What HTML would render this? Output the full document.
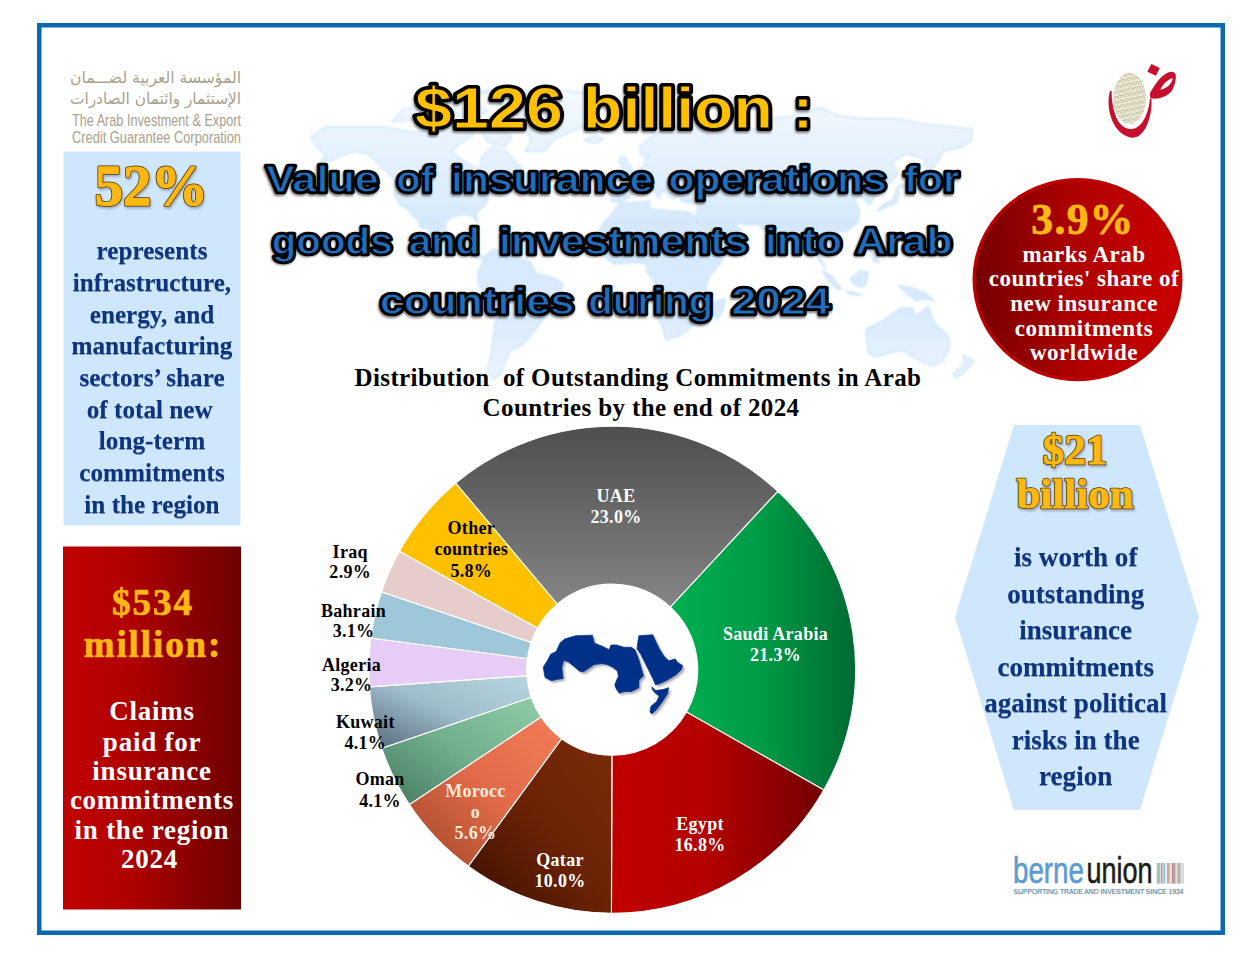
<!DOCTYPE html>
<html lang="en"><head><meta charset="utf-8"><title>Insurance operations into Arab countries 2024</title>
<style>
html,body{margin:0;padding:0;background:#fff;}
body{width:1254px;height:969px;position:relative;overflow:hidden;}
svg{position:absolute;left:0;top:0;display:block;}
text{white-space:pre;}
.serif{font-family:"Liberation Serif","DejaVu Serif",serif;font-weight:bold;}
.sans{font-family:"Liberation Sans","DejaVu Sans",sans-serif;}
.ar{font-family:"DejaVu Sans","Liberation Sans",sans-serif;}
</style></head>
<body>
<svg width="1254" height="969" viewBox="0 0 1254 969">
<defs>
<filter id="mapblur" x="-5%" y="-5%" width="110%" height="110%"><feGaussianBlur stdDeviation="1.1"/></filter>
<linearGradient id="mapgrad" gradientUnits="userSpaceOnUse" x1="0" y1="75" x2="0" y2="400"><stop offset="0" stop-color="#f8fbff"/><stop offset="0.25" stop-color="#e4f1fd"/><stop offset="0.45" stop-color="#d3e8fb"/><stop offset="0.72" stop-color="#d6e9fb"/><stop offset="1" stop-color="#eef6fe"/></linearGradient>
<filter id="tshadow" x="-5%" y="-20%" width="110%" height="150%"><feGaussianBlur stdDeviation="0.9"/></filter>
<linearGradient id="redbox" x1="0" x2="1" y1="0" y2="0"><stop offset="0" stop-color="#c00000"/><stop offset="0.35" stop-color="#b20000"/><stop offset="1" stop-color="#6c0000"/></linearGradient>
<linearGradient id="redcirc" x1="0" x2="1" y1="0" y2="0"><stop offset="0" stop-color="#760000"/><stop offset="0.5" stop-color="#b00000"/><stop offset="1" stop-color="#c80000"/></linearGradient>
<linearGradient id="gUAE" x1="0" y1="0" x2="0" y2="1"><stop offset="0" stop-color="#4e4e4e"/><stop offset="1" stop-color="#858585"/></linearGradient>
<linearGradient id="gSA" x1="0" y1="0" x2="1" y2="0"><stop offset="0" stop-color="#00b050"/><stop offset="0.5" stop-color="#009a46"/><stop offset="1" stop-color="#006a31"/></linearGradient>
<linearGradient id="gEG" x1="0" y1="0" x2="1" y2="0"><stop offset="0" stop-color="#c00000"/><stop offset="0.45" stop-color="#b40000"/><stop offset="1" stop-color="#720000"/></linearGradient>
<linearGradient id="gQA" x1="1" y1="0" x2="0" y2="1"><stop offset="0" stop-color="#7a2c0a"/><stop offset="0.5" stop-color="#6a2205"/><stop offset="1" stop-color="#3a0f00"/></linearGradient>
<linearGradient id="gMO" x1="1" y1="0" x2="0" y2="1"><stop offset="0" stop-color="#f47c58"/><stop offset="0.5" stop-color="#e06a48"/><stop offset="1" stop-color="#a04628"/></linearGradient>
<linearGradient id="gOM" x1="1" y1="0" x2="0" y2="1"><stop offset="0" stop-color="#8fcca6"/><stop offset="0.5" stop-color="#72b08e"/><stop offset="1" stop-color="#44785f"/></linearGradient>
<linearGradient id="gKU" x1="1" y1="0" x2="0" y2="1"><stop offset="0" stop-color="#b6d6df"/><stop offset="0.5" stop-color="#9fbecb"/><stop offset="1" stop-color="#55687a"/></linearGradient>
<filter id="mshadow" x="-10%" y="-10%" width="130%" height="130%"><feGaussianBlur stdDeviation="6"/></filter>
<pattern id="calli" width="6" height="5" patternUnits="userSpaceOnUse" patternTransform="rotate(-12)"><rect width="6" height="5" fill="#f7f4e4"/><path d="M0 1.5 Q1.5 0 3 1.5 T6 1.5 M0.5 3.8 L2.5 3 M3.5 4.2 Q4.5 2.6 5.6 4" stroke="#9c966c" stroke-width="0.85" fill="none"/></pattern>
</defs>
<rect x="39.25" y="25.25" width="1183.5" height="907.5" fill="none" stroke="#0b69b0" stroke-width="4.5"/>
<g filter="url(#mapblur)" opacity="0.92">
<path d="M310.8 137.0 L326.0 126.8 L354.5 126.8 L383.0 126.8 L411.5 131.9 L440.0 131.9 L449.5 121.5 L468.5 126.8 L474.2 134.5 L462.8 141.9 L451.4 151.4 L459.0 158.3 L474.2 167.3 L479.9 169.5 L481.8 156.0 L493.2 146.7 L506.5 151.4 L516.0 162.8 L523.6 169.5 L516.0 180.2 L506.5 186.5 L497.0 190.7 L489.4 194.8 L485.6 204.9 L476.1 212.8 L478.0 222.6 L474.2 218.7 L470.4 214.8 L460.9 214.8 L451.4 216.8 L445.7 222.6 L445.7 230.4 L451.4 238.0 L459.0 236.1 L464.7 232.3 L464.7 241.8 L472.3 243.7 L472.3 253.2 L479.9 255.1 L483.7 257.0 L478.0 258.8 L468.5 253.2 L459.0 247.5 L449.5 241.8 L440.0 239.9 L430.5 234.2 L428.6 228.4 L421.0 228.4 L417.2 218.7 L411.5 214.8 L407.7 208.9 L400.1 204.9 L394.4 194.8 L394.4 180.2 L386.8 171.7 L377.3 162.8 L367.8 153.7 L354.5 151.4 L341.2 156.0 L329.8 160.6 L316.5 165.1 L326.0 156.0 L316.5 146.7 L310.8 137.0Z" fill="url(#mapgrad)" stroke="#c2dff7" stroke-width="1.2" stroke-linejoin="round"/>
<path d="M392.5 121.5 L421.0 118.8 L430.5 110.5 L459.0 116.1 L478.0 118.8 L487.5 110.5 L468.5 98.7 L497.0 89.2 L449.5 95.6 L421.0 104.7 L402.0 110.5 L392.5 121.5Z" fill="url(#mapgrad)" stroke="#c2dff7" stroke-width="1.2" stroke-linejoin="round"/>
<path d="M478.0 126.8 L497.0 126.8 L512.2 137.0 L504.6 146.7 L487.5 141.9 L478.0 126.8Z" fill="url(#mapgrad)" stroke="#c2dff7" stroke-width="1.2" stroke-linejoin="round"/>
<path d="M525.5 151.4 L544.5 151.4 L554.0 139.4 L582.5 126.8 L592.0 110.5 L582.5 92.4 L544.5 89.2 L516.0 92.4 L497.0 104.7 L516.0 113.3 L525.5 126.8 L531.2 139.4 L525.5 151.4Z" fill="url(#mapgrad)" stroke="#c2dff7" stroke-width="1.2" stroke-linejoin="round"/>
<path d="M483.7 257.0 L493.2 249.4 L506.5 253.2 L516.0 257.0 L531.2 262.6 L535.0 272.0 L546.4 275.8 L557.8 279.5 L563.5 285.2 L557.8 296.5 L554.0 309.8 L544.5 317.5 L538.8 325.3 L529.3 337.1 L521.7 345.1 L510.3 351.2 L504.6 361.6 L500.8 374.5 L493.2 378.9 L487.5 370.2 L491.3 353.3 L493.2 339.1 L495.1 325.3 L497.0 306.0 L485.6 298.4 L478.0 283.3 L478.0 272.0 L481.8 264.5 L483.7 257.0Z" fill="url(#mapgrad)" stroke="#c2dff7" stroke-width="1.2" stroke-linejoin="round"/>
<path d="M597.7 243.7 L597.7 232.3 L605.3 220.7 L611.0 214.8 L618.6 204.9 L630.0 202.9 L649.0 200.9 L650.9 208.9 L668.0 210.9 L677.5 210.9 L690.8 212.8 L696.5 218.7 L700.3 230.4 L704.1 241.8 L711.7 249.4 L726.9 249.4 L721.2 262.6 L709.8 275.8 L706.0 287.0 L706.0 300.3 L696.5 309.8 L696.5 319.4 L687.0 331.2 L677.5 337.1 L666.1 339.1 L662.3 327.2 L654.7 309.8 L652.8 294.6 L654.7 281.4 L647.1 272.0 L647.1 264.5 L639.5 262.6 L630.0 262.6 L614.8 264.5 L605.3 257.0 L597.7 243.7Z" fill="url(#mapgrad)" stroke="#c2dff7" stroke-width="1.2" stroke-linejoin="round"/>
<path d="M611.0 200.9 L612.9 188.6 L626.2 186.5 L622.4 178.1 L633.8 171.7 L645.2 165.1 L645.2 158.3 L650.9 156.0 L641.4 156.0 L639.5 146.7 L654.7 134.5 L671.8 126.8 L687.0 124.2 L707.9 134.5 L713.6 137.0 L725.0 131.9 L744.0 129.4 L759.2 129.4 L766.8 118.8 L791.5 116.1 L820.0 107.6 L839.0 116.1 L867.5 118.8 L896.0 118.8 L924.5 124.2 L953.0 126.8 L972.0 129.4 L972.0 139.4 L962.5 146.7 L943.5 151.4 L934.0 167.3 L926.4 171.7 L924.5 158.3 L905.5 153.7 L892.2 162.8 L897.9 173.8 L886.5 186.5 L877.0 190.7 L873.2 198.9 L869.4 204.9 L861.8 196.8 L854.2 198.9 L859.9 210.9 L858.0 222.6 L848.5 230.4 L837.1 232.3 L833.3 239.9 L837.1 249.4 L829.5 255.1 L820.0 247.5 L820.0 258.8 L825.7 268.2 L818.1 258.8 L816.2 243.7 L808.6 239.9 L802.9 230.4 L795.3 232.3 L785.8 241.8 L782.0 249.4 L776.3 257.0 L770.6 243.7 L766.8 232.3 L757.3 224.6 L744.0 224.6 L738.3 222.6 L736.4 226.5 L742.1 230.4 L734.5 239.9 L715.5 247.5 L711.7 245.6 L704.1 232.3 L696.5 218.7 L696.5 210.9 L698.4 202.9 L687.0 202.9 L681.3 200.9 L679.4 194.8 L673.7 198.9 L668.0 194.8 L664.2 190.7 L658.5 194.8 L660.4 198.9 L652.8 190.7 L645.2 186.5 L635.7 188.6 L630.0 196.8 L620.5 202.9 L611.0 200.9Z" fill="url(#mapgrad)" stroke="#c2dff7" stroke-width="1.2" stroke-linejoin="round"/>
<path d="M866.3 329.1 L883.3 320.6 L900.3 308.1 L913.1 308.1 L915.2 316.5 L923.7 310.2 L928.0 306.1 L934.4 322.7 L949.3 337.6 L949.3 348.3 L942.9 361.5 L932.2 366.0 L921.6 361.5 L913.1 357.1 L902.4 350.5 L889.7 352.7 L874.8 357.1 L868.4 352.7 L866.3 337.6 L866.3 329.1Z" fill="url(#mapgrad)" stroke="#c2dff7" stroke-width="1.2" stroke-linejoin="round"/>
<path d="M822.5 270.6 L832.0 276.2 L841.5 289.4 L837.7 289.4 L828.2 280.0 L822.5 270.6Z" fill="url(#mapgrad)" stroke="#c2dff7" stroke-width="1.2" stroke-linejoin="round"/>
<path d="M851.1 278.1 L860.6 270.6 L868.2 272.5 L866.3 283.8 L860.6 287.5 L853.0 283.8 L851.1 278.1Z" fill="url(#mapgrad)" stroke="#c2dff7" stroke-width="1.2" stroke-linejoin="round"/>
<path d="M845.4 291.3 L856.8 293.2 L862.5 295.0 L853.0 295.0 L845.4 291.3Z" fill="url(#mapgrad)" stroke="#c2dff7" stroke-width="1.2" stroke-linejoin="round"/>
<path d="M898.9 285.9 L912.2 287.8 L925.5 293.4 L935.0 300.9 L925.5 299.0 L916.0 300.9 L906.5 293.4 L898.9 285.9Z" fill="url(#mapgrad)" stroke="#c2dff7" stroke-width="1.2" stroke-linejoin="round"/>
<path d="M877.0 210.9 L886.5 206.9 L896.0 202.9 L899.8 194.8 L897.9 188.6 L905.5 186.5 L899.8 184.5 L896.0 190.7 L892.2 200.9 L882.7 204.9 L877.0 210.9Z" fill="url(#mapgrad)" stroke="#c2dff7" stroke-width="1.2" stroke-linejoin="round"/>
<path d="M620.5 173.8 L631.9 171.7 L630.0 165.1 L626.2 158.3 L620.5 156.0 L618.6 162.8 L624.3 165.1 L620.5 169.5 L620.5 173.8Z" fill="url(#mapgrad)" stroke="#c2dff7" stroke-width="1.2" stroke-linejoin="round"/>
<path d="M584.4 139.4 L595.8 135.7 L603.4 139.4 L595.8 143.1 L588.2 141.9 L584.4 139.4Z" fill="url(#mapgrad)" stroke="#c2dff7" stroke-width="1.2" stroke-linejoin="round"/>
<path d="M713.6 302.2 L725.0 298.4 L723.1 309.8 L717.4 319.4 L713.6 313.6 L713.6 302.2Z" fill="url(#mapgrad)" stroke="#c2dff7" stroke-width="1.2" stroke-linejoin="round"/>
<path d="M962.8 355.1 L974.2 361.1 L968.5 367.2 L962.8 373.5 L955.2 377.6 L953.3 373.5 L960.9 367.2 L964.7 363.2 L962.8 355.1Z" fill="url(#mapgrad)" stroke="#c2dff7" stroke-width="1.2" stroke-linejoin="round"/>
<path d="M868.0 242.0 L871.8 243.9 L875.6 253.4 L879.4 262.8 L873.7 261.0 L869.9 251.5 L868.0 242.0Z" fill="url(#mapgrad)" stroke="#c2dff7" stroke-width="1.2" stroke-linejoin="round"/>
</g>
<text class="ar" x="241" y="82.8" font-size="16" fill="#a8a18b" text-anchor="end" textLength="171" lengthAdjust="spacingAndGlyphs">المؤسسة العربية لضـــمان</text>
<text class="ar" x="241" y="104.2" font-size="16" fill="#a8a18b" text-anchor="end" textLength="171" lengthAdjust="spacingAndGlyphs">الإستثمار وائتمان الصادرات</text>
<text class="sans" x="72" y="126" font-size="17" fill="#a8a18b" textLength="169" lengthAdjust="spacingAndGlyphs">The Arab Investment &amp; Export</text>
<text class="sans" x="72" y="142.5" font-size="17" fill="#a8a18b" textLength="169" lengthAdjust="spacingAndGlyphs">Credit Guarantee Corporation</text>
<text class="sans" font-weight="bold" font-size="58" x="415.1" y="128.3" textLength="147.8" lengthAdjust="spacingAndGlyphs" stroke-linejoin="round" transform="translate(-0.8,1.8)" fill="#000" stroke="#000" stroke-width="6.2" opacity="0.5" filter="url(#tshadow)">$126</text>
<text class="sans" font-weight="bold" font-size="58" x="415.1" y="128.3" textLength="147.8" lengthAdjust="spacingAndGlyphs" stroke-linejoin="round" fill="#000" stroke="#000" stroke-width="6.2">$126</text>
<text class="sans" font-weight="bold" font-size="58" x="415.1" y="128.3" textLength="147.8" lengthAdjust="spacingAndGlyphs" stroke-linejoin="round" fill="#ffc000" stroke="#ffc000" stroke-width="0">$126</text>
<text class="sans" font-weight="bold" font-size="58" x="415.1" y="128.3" textLength="147.8" lengthAdjust="spacingAndGlyphs" stroke-linejoin="round" fill="none" stroke="#000" stroke-width="0.9">$126</text>
<text class="sans" font-weight="bold" font-size="58" x="583.1" y="128.3" textLength="189.8" lengthAdjust="spacingAndGlyphs" stroke-linejoin="round" transform="translate(-0.8,1.8)" fill="#000" stroke="#000" stroke-width="6.2" opacity="0.5" filter="url(#tshadow)">billion</text>
<text class="sans" font-weight="bold" font-size="58" x="583.1" y="128.3" textLength="189.8" lengthAdjust="spacingAndGlyphs" stroke-linejoin="round" fill="#000" stroke="#000" stroke-width="6.2">billion</text>
<text class="sans" font-weight="bold" font-size="58" x="583.1" y="128.3" textLength="189.8" lengthAdjust="spacingAndGlyphs" stroke-linejoin="round" fill="#ffc000" stroke="#ffc000" stroke-width="0">billion</text>
<text class="sans" font-weight="bold" font-size="58" x="583.1" y="128.3" textLength="189.8" lengthAdjust="spacingAndGlyphs" stroke-linejoin="round" fill="none" stroke="#000" stroke-width="0.9">billion</text>
<text class="sans" font-weight="bold" font-size="58" x="793.0" y="128.3" textLength="19.9" lengthAdjust="spacingAndGlyphs" stroke-linejoin="round" transform="translate(-0.8,1.8)" fill="#000" stroke="#000" stroke-width="6.2" opacity="0.5" filter="url(#tshadow)">:</text>
<text class="sans" font-weight="bold" font-size="58" x="793.0" y="128.3" textLength="19.9" lengthAdjust="spacingAndGlyphs" stroke-linejoin="round" fill="#000" stroke="#000" stroke-width="6.2">:</text>
<text class="sans" font-weight="bold" font-size="58" x="793.0" y="128.3" textLength="19.9" lengthAdjust="spacingAndGlyphs" stroke-linejoin="round" fill="#ffc000" stroke="#ffc000" stroke-width="0">:</text>
<text class="sans" font-weight="bold" font-size="58" x="793.0" y="128.3" textLength="19.9" lengthAdjust="spacingAndGlyphs" stroke-linejoin="round" fill="none" stroke="#000" stroke-width="0.9">:</text>
<text class="sans" font-weight="bold" font-size="37.5" x="265.9" y="192.4" textLength="113.0" lengthAdjust="spacingAndGlyphs" stroke-linejoin="round" transform="translate(-0.8,1.8)" fill="#000" stroke="#000" stroke-width="4.6" opacity="0.5" filter="url(#tshadow)">Value</text>
<text class="sans" font-weight="bold" font-size="37.5" x="265.9" y="192.4" textLength="113.0" lengthAdjust="spacingAndGlyphs" stroke-linejoin="round" fill="#000" stroke="#000" stroke-width="4.6">Value</text>
<text class="sans" font-weight="bold" font-size="37.5" x="265.9" y="192.4" textLength="113.0" lengthAdjust="spacingAndGlyphs" stroke-linejoin="round" fill="#1f6fbf" stroke="#1f6fbf" stroke-width="0">Value</text>
<text class="sans" font-weight="bold" font-size="37.5" x="265.9" y="192.4" textLength="113.0" lengthAdjust="spacingAndGlyphs" stroke-linejoin="round" fill="none" stroke="#000" stroke-width="1.2">Value</text>
<text class="sans" font-weight="bold" font-size="37.5" x="396.2" y="192.4" textLength="37.5" lengthAdjust="spacingAndGlyphs" stroke-linejoin="round" transform="translate(-0.8,1.8)" fill="#000" stroke="#000" stroke-width="4.6" opacity="0.5" filter="url(#tshadow)">of</text>
<text class="sans" font-weight="bold" font-size="37.5" x="396.2" y="192.4" textLength="37.5" lengthAdjust="spacingAndGlyphs" stroke-linejoin="round" fill="#000" stroke="#000" stroke-width="4.6">of</text>
<text class="sans" font-weight="bold" font-size="37.5" x="396.2" y="192.4" textLength="37.5" lengthAdjust="spacingAndGlyphs" stroke-linejoin="round" fill="#1f6fbf" stroke="#1f6fbf" stroke-width="0">of</text>
<text class="sans" font-weight="bold" font-size="37.5" x="396.2" y="192.4" textLength="37.5" lengthAdjust="spacingAndGlyphs" stroke-linejoin="round" fill="none" stroke="#000" stroke-width="1.2">of</text>
<text class="sans" font-weight="bold" font-size="37.5" x="451.1" y="192.4" textLength="202.1" lengthAdjust="spacingAndGlyphs" stroke-linejoin="round" transform="translate(-0.8,1.8)" fill="#000" stroke="#000" stroke-width="4.6" opacity="0.5" filter="url(#tshadow)">insurance</text>
<text class="sans" font-weight="bold" font-size="37.5" x="451.1" y="192.4" textLength="202.1" lengthAdjust="spacingAndGlyphs" stroke-linejoin="round" fill="#000" stroke="#000" stroke-width="4.6">insurance</text>
<text class="sans" font-weight="bold" font-size="37.5" x="451.1" y="192.4" textLength="202.1" lengthAdjust="spacingAndGlyphs" stroke-linejoin="round" fill="#1f6fbf" stroke="#1f6fbf" stroke-width="0">insurance</text>
<text class="sans" font-weight="bold" font-size="37.5" x="451.1" y="192.4" textLength="202.1" lengthAdjust="spacingAndGlyphs" stroke-linejoin="round" fill="none" stroke="#000" stroke-width="1.2">insurance</text>
<text class="sans" font-weight="bold" font-size="37.5" x="668.4" y="192.4" textLength="218.5" lengthAdjust="spacingAndGlyphs" stroke-linejoin="round" transform="translate(-0.8,1.8)" fill="#000" stroke="#000" stroke-width="4.6" opacity="0.5" filter="url(#tshadow)">operations</text>
<text class="sans" font-weight="bold" font-size="37.5" x="668.4" y="192.4" textLength="218.5" lengthAdjust="spacingAndGlyphs" stroke-linejoin="round" fill="#000" stroke="#000" stroke-width="4.6">operations</text>
<text class="sans" font-weight="bold" font-size="37.5" x="668.4" y="192.4" textLength="218.5" lengthAdjust="spacingAndGlyphs" stroke-linejoin="round" fill="#1f6fbf" stroke="#1f6fbf" stroke-width="0">operations</text>
<text class="sans" font-weight="bold" font-size="37.5" x="668.4" y="192.4" textLength="218.5" lengthAdjust="spacingAndGlyphs" stroke-linejoin="round" fill="none" stroke="#000" stroke-width="1.2">operations</text>
<text class="sans" font-weight="bold" font-size="37.5" x="903.9" y="192.4" textLength="55.3" lengthAdjust="spacingAndGlyphs" stroke-linejoin="round" transform="translate(-0.8,1.8)" fill="#000" stroke="#000" stroke-width="4.6" opacity="0.5" filter="url(#tshadow)">for</text>
<text class="sans" font-weight="bold" font-size="37.5" x="903.9" y="192.4" textLength="55.3" lengthAdjust="spacingAndGlyphs" stroke-linejoin="round" fill="#000" stroke="#000" stroke-width="4.6">for</text>
<text class="sans" font-weight="bold" font-size="37.5" x="903.9" y="192.4" textLength="55.3" lengthAdjust="spacingAndGlyphs" stroke-linejoin="round" fill="#1f6fbf" stroke="#1f6fbf" stroke-width="0">for</text>
<text class="sans" font-weight="bold" font-size="37.5" x="903.9" y="192.4" textLength="55.3" lengthAdjust="spacingAndGlyphs" stroke-linejoin="round" fill="none" stroke="#000" stroke-width="1.2">for</text>
<text class="sans" font-weight="bold" font-size="37.5" x="271.7" y="253.5" textLength="120.9" lengthAdjust="spacingAndGlyphs" stroke-linejoin="round" transform="translate(-0.8,1.8)" fill="#000" stroke="#000" stroke-width="4.6" opacity="0.5" filter="url(#tshadow)">goods</text>
<text class="sans" font-weight="bold" font-size="37.5" x="271.7" y="253.5" textLength="120.9" lengthAdjust="spacingAndGlyphs" stroke-linejoin="round" fill="#000" stroke="#000" stroke-width="4.6">goods</text>
<text class="sans" font-weight="bold" font-size="37.5" x="271.7" y="253.5" textLength="120.9" lengthAdjust="spacingAndGlyphs" stroke-linejoin="round" fill="#1f6fbf" stroke="#1f6fbf" stroke-width="0">goods</text>
<text class="sans" font-weight="bold" font-size="37.5" x="271.7" y="253.5" textLength="120.9" lengthAdjust="spacingAndGlyphs" stroke-linejoin="round" fill="none" stroke="#000" stroke-width="1.2">goods</text>
<text class="sans" font-weight="bold" font-size="37.5" x="408.9" y="253.5" textLength="71.1" lengthAdjust="spacingAndGlyphs" stroke-linejoin="round" transform="translate(-0.8,1.8)" fill="#000" stroke="#000" stroke-width="4.6" opacity="0.5" filter="url(#tshadow)">and</text>
<text class="sans" font-weight="bold" font-size="37.5" x="408.9" y="253.5" textLength="71.1" lengthAdjust="spacingAndGlyphs" stroke-linejoin="round" fill="#000" stroke="#000" stroke-width="4.6">and</text>
<text class="sans" font-weight="bold" font-size="37.5" x="408.9" y="253.5" textLength="71.1" lengthAdjust="spacingAndGlyphs" stroke-linejoin="round" fill="#1f6fbf" stroke="#1f6fbf" stroke-width="0">and</text>
<text class="sans" font-weight="bold" font-size="37.5" x="408.9" y="253.5" textLength="71.1" lengthAdjust="spacingAndGlyphs" stroke-linejoin="round" fill="none" stroke="#000" stroke-width="1.2">and</text>
<text class="sans" font-weight="bold" font-size="37.5" x="499.1" y="253.5" textLength="249.1" lengthAdjust="spacingAndGlyphs" stroke-linejoin="round" transform="translate(-0.8,1.8)" fill="#000" stroke="#000" stroke-width="4.6" opacity="0.5" filter="url(#tshadow)">investments</text>
<text class="sans" font-weight="bold" font-size="37.5" x="499.1" y="253.5" textLength="249.1" lengthAdjust="spacingAndGlyphs" stroke-linejoin="round" fill="#000" stroke="#000" stroke-width="4.6">investments</text>
<text class="sans" font-weight="bold" font-size="37.5" x="499.1" y="253.5" textLength="249.1" lengthAdjust="spacingAndGlyphs" stroke-linejoin="round" fill="#1f6fbf" stroke="#1f6fbf" stroke-width="0">investments</text>
<text class="sans" font-weight="bold" font-size="37.5" x="499.1" y="253.5" textLength="249.1" lengthAdjust="spacingAndGlyphs" stroke-linejoin="round" fill="none" stroke="#000" stroke-width="1.2">investments</text>
<text class="sans" font-weight="bold" font-size="37.5" x="765.0" y="253.5" textLength="77.1" lengthAdjust="spacingAndGlyphs" stroke-linejoin="round" transform="translate(-0.8,1.8)" fill="#000" stroke="#000" stroke-width="4.6" opacity="0.5" filter="url(#tshadow)">into</text>
<text class="sans" font-weight="bold" font-size="37.5" x="765.0" y="253.5" textLength="77.1" lengthAdjust="spacingAndGlyphs" stroke-linejoin="round" fill="#000" stroke="#000" stroke-width="4.6">into</text>
<text class="sans" font-weight="bold" font-size="37.5" x="765.0" y="253.5" textLength="77.1" lengthAdjust="spacingAndGlyphs" stroke-linejoin="round" fill="#1f6fbf" stroke="#1f6fbf" stroke-width="0">into</text>
<text class="sans" font-weight="bold" font-size="37.5" x="765.0" y="253.5" textLength="77.1" lengthAdjust="spacingAndGlyphs" stroke-linejoin="round" fill="none" stroke="#000" stroke-width="1.2">into</text>
<text class="sans" font-weight="bold" font-size="37.5" x="855.3" y="253.5" textLength="97.4" lengthAdjust="spacingAndGlyphs" stroke-linejoin="round" transform="translate(-0.8,1.8)" fill="#000" stroke="#000" stroke-width="4.6" opacity="0.5" filter="url(#tshadow)">Arab</text>
<text class="sans" font-weight="bold" font-size="37.5" x="855.3" y="253.5" textLength="97.4" lengthAdjust="spacingAndGlyphs" stroke-linejoin="round" fill="#000" stroke="#000" stroke-width="4.6">Arab</text>
<text class="sans" font-weight="bold" font-size="37.5" x="855.3" y="253.5" textLength="97.4" lengthAdjust="spacingAndGlyphs" stroke-linejoin="round" fill="#1f6fbf" stroke="#1f6fbf" stroke-width="0">Arab</text>
<text class="sans" font-weight="bold" font-size="37.5" x="855.3" y="253.5" textLength="97.4" lengthAdjust="spacingAndGlyphs" stroke-linejoin="round" fill="none" stroke="#000" stroke-width="1.2">Arab</text>
<text class="sans" font-weight="bold" font-size="37.5" x="379.8" y="314" textLength="194.5" lengthAdjust="spacingAndGlyphs" stroke-linejoin="round" transform="translate(-0.8,1.8)" fill="#000" stroke="#000" stroke-width="4.6" opacity="0.5" filter="url(#tshadow)">countries</text>
<text class="sans" font-weight="bold" font-size="37.5" x="379.8" y="314" textLength="194.5" lengthAdjust="spacingAndGlyphs" stroke-linejoin="round" fill="#000" stroke="#000" stroke-width="4.6">countries</text>
<text class="sans" font-weight="bold" font-size="37.5" x="379.8" y="314" textLength="194.5" lengthAdjust="spacingAndGlyphs" stroke-linejoin="round" fill="#1f6fbf" stroke="#1f6fbf" stroke-width="0">countries</text>
<text class="sans" font-weight="bold" font-size="37.5" x="379.8" y="314" textLength="194.5" lengthAdjust="spacingAndGlyphs" stroke-linejoin="round" fill="none" stroke="#000" stroke-width="1.2">countries</text>
<text class="sans" font-weight="bold" font-size="37.5" x="588.3" y="314" textLength="124.9" lengthAdjust="spacingAndGlyphs" stroke-linejoin="round" transform="translate(-0.8,1.8)" fill="#000" stroke="#000" stroke-width="4.6" opacity="0.5" filter="url(#tshadow)">during</text>
<text class="sans" font-weight="bold" font-size="37.5" x="588.3" y="314" textLength="124.9" lengthAdjust="spacingAndGlyphs" stroke-linejoin="round" fill="#000" stroke="#000" stroke-width="4.6">during</text>
<text class="sans" font-weight="bold" font-size="37.5" x="588.3" y="314" textLength="124.9" lengthAdjust="spacingAndGlyphs" stroke-linejoin="round" fill="#1f6fbf" stroke="#1f6fbf" stroke-width="0">during</text>
<text class="sans" font-weight="bold" font-size="37.5" x="588.3" y="314" textLength="124.9" lengthAdjust="spacingAndGlyphs" stroke-linejoin="round" fill="none" stroke="#000" stroke-width="1.2">during</text>
<text class="sans" font-weight="bold" font-size="37.5" x="731.6" y="314" textLength="98.7" lengthAdjust="spacingAndGlyphs" stroke-linejoin="round" transform="translate(-0.8,1.8)" fill="#000" stroke="#000" stroke-width="4.6" opacity="0.5" filter="url(#tshadow)">2024</text>
<text class="sans" font-weight="bold" font-size="37.5" x="731.6" y="314" textLength="98.7" lengthAdjust="spacingAndGlyphs" stroke-linejoin="round" fill="#000" stroke="#000" stroke-width="4.6">2024</text>
<text class="sans" font-weight="bold" font-size="37.5" x="731.6" y="314" textLength="98.7" lengthAdjust="spacingAndGlyphs" stroke-linejoin="round" fill="#1f6fbf" stroke="#1f6fbf" stroke-width="0">2024</text>
<text class="sans" font-weight="bold" font-size="37.5" x="731.6" y="314" textLength="98.7" lengthAdjust="spacingAndGlyphs" stroke-linejoin="round" fill="none" stroke="#000" stroke-width="1.2">2024</text>
<rect x="63.5" y="151.5" width="177" height="374" fill="#cfe7fc"/>
<text class="serif" x="152.3" y="206.7" font-size="56.6" fill="#667" stroke="#667" stroke-width="2.9000000000000004" opacity="0.45" text-anchor="middle" stroke-linejoin="round" letter-spacing="0" style="filter:blur(0.8px)">52%</text>
<text class="serif" x="151.3" y="205.2" font-size="56.6" fill="#4a3600" stroke="#4a3600" stroke-width="2.8" text-anchor="middle" stroke-linejoin="round" letter-spacing="0">52%</text>
<text class="serif" x="151.3" y="205.2" font-size="56.6" fill="#fdb813" stroke="#fdb813" stroke-width="1.3" text-anchor="middle" stroke-linejoin="round" letter-spacing="0">52%</text>
<text class="serif" x="152" y="259.3" font-size="25.2" fill="#0d3480" text-anchor="middle" style="filter:drop-shadow(0.9px 1px 0.5px rgba(70,90,130,0.55))">represents</text>
<text class="serif" x="152" y="290.9" font-size="25.2" fill="#0d3480" text-anchor="middle" style="filter:drop-shadow(0.9px 1px 0.5px rgba(70,90,130,0.55))">infrastructure,</text>
<text class="serif" x="152" y="322.6" font-size="25.2" fill="#0d3480" text-anchor="middle" style="filter:drop-shadow(0.9px 1px 0.5px rgba(70,90,130,0.55))">energy, and</text>
<text class="serif" x="152" y="354.2" font-size="25.2" fill="#0d3480" text-anchor="middle" style="filter:drop-shadow(0.9px 1px 0.5px rgba(70,90,130,0.55))">manufacturing</text>
<text class="serif" x="152" y="385.9" font-size="25.2" fill="#0d3480" text-anchor="middle" style="filter:drop-shadow(0.9px 1px 0.5px rgba(70,90,130,0.55))">sectors’ share</text>
<text class="serif" x="149.7" y="417.6" font-size="25.2" fill="#0d3480" text-anchor="middle" style="filter:drop-shadow(0.9px 1px 0.5px rgba(70,90,130,0.55))">of total new</text>
<text class="serif" x="152" y="449.2" font-size="25.2" fill="#0d3480" text-anchor="middle" style="filter:drop-shadow(0.9px 1px 0.5px rgba(70,90,130,0.55))">long-term</text>
<text class="serif" x="152" y="480.9" font-size="25.2" fill="#0d3480" text-anchor="middle" style="filter:drop-shadow(0.9px 1px 0.5px rgba(70,90,130,0.55))">commitments</text>
<text class="serif" x="152" y="512.5" font-size="25.2" fill="#0d3480" text-anchor="middle" style="filter:drop-shadow(0.9px 1px 0.5px rgba(70,90,130,0.55))">in the region</text>
<rect x="63" y="546.5" width="178" height="363" fill="url(#redbox)"/>
<text class="serif" x="153" y="614.5" font-size="37" fill="#fdb813" stroke="#fdb813" stroke-width="0.7" text-anchor="middle" stroke-linejoin="round" letter-spacing="2.0">$534</text>
<text class="serif" x="153" y="657" font-size="37" fill="#fdb813" stroke="#fdb813" stroke-width="0.7" text-anchor="middle" stroke-linejoin="round" letter-spacing="1.9">million:</text>
<text class="serif" x="152" y="720" font-size="27" fill="#fff" text-anchor="middle" letter-spacing="0.75">Claims</text>
<text class="serif" x="152" y="750.5" font-size="27" fill="#fff" text-anchor="middle" letter-spacing="0.75">paid for</text>
<text class="serif" x="152" y="779.5" font-size="27" fill="#fff" text-anchor="middle" letter-spacing="0.75">insurance</text>
<text class="serif" x="152" y="808.5" font-size="27" fill="#fff" text-anchor="middle" letter-spacing="0.75">commitments</text>
<text class="serif" x="152" y="838.5" font-size="27" fill="#fff" text-anchor="middle" letter-spacing="0.75">in the region</text>
<text class="serif" x="149.5" y="867.5" font-size="27" fill="#fff" text-anchor="middle" letter-spacing="0.75">2024</text>
<ellipse cx="1077.5" cy="279.6" rx="105" ry="101.6" fill="#bd0000"/>
<ellipse cx="1077.5" cy="279.6" rx="101.8" ry="98.4" fill="url(#redcirc)" style="filter:blur(0.6px)"/>
<text class="serif" x="1083" y="233.5" font-size="43.5" fill="#fdb813" stroke="#fdb813" stroke-width="0.8" text-anchor="middle" stroke-linejoin="round" letter-spacing="1.4">3.9%</text>
<text class="serif" x="1084" y="261.5" font-size="23" fill="#fff" text-anchor="middle" letter-spacing="0.5">marks Arab</text>
<text class="serif" x="1084" y="286.2" font-size="23" fill="#fff" text-anchor="middle" letter-spacing="0.5">countries' share of</text>
<text class="serif" x="1084" y="310.9" font-size="23" fill="#fff" text-anchor="middle" letter-spacing="0.5">new insurance</text>
<text class="serif" x="1084" y="335.6" font-size="23" fill="#fff" text-anchor="middle" letter-spacing="0.5">commitments</text>
<text class="serif" x="1084" y="360.3" font-size="23" fill="#fff" text-anchor="middle" letter-spacing="0.5">worldwide</text>
<polygon points="1014,425 1140,425 1199,617 1140,810 1014,810 955,617" fill="#cfe7fc"/>
<text class="serif" x="1076" y="465.5" font-size="43" fill="#667" stroke="#667" stroke-width="2.5" opacity="0.45" text-anchor="middle" stroke-linejoin="round" letter-spacing="0" style="filter:blur(0.8px)">$21</text>
<text class="serif" x="1075" y="464" font-size="43" fill="#4a3600" stroke="#4a3600" stroke-width="2.4" text-anchor="middle" stroke-linejoin="round" letter-spacing="0">$21</text>
<text class="serif" x="1075" y="464" font-size="43" fill="#fdb813" stroke="#fdb813" stroke-width="0.9" text-anchor="middle" stroke-linejoin="round" letter-spacing="0">$21</text>
<text class="serif" x="1076" y="509.5" font-size="43" fill="#667" stroke="#667" stroke-width="2.5" opacity="0.45" text-anchor="middle" stroke-linejoin="round" letter-spacing="0" style="filter:blur(0.8px)">billion</text>
<text class="serif" x="1075" y="508" font-size="43" fill="#4a3600" stroke="#4a3600" stroke-width="2.4" text-anchor="middle" stroke-linejoin="round" letter-spacing="0">billion</text>
<text class="serif" x="1075" y="508" font-size="43" fill="#fdb813" stroke="#fdb813" stroke-width="0.9" text-anchor="middle" stroke-linejoin="round" letter-spacing="0">billion</text>
<text class="serif" x="1075.7" y="566.2" font-size="27.1" fill="#0d3480" text-anchor="middle" style="filter:drop-shadow(0.9px 1px 0.5px rgba(70,90,130,0.55))">is worth of</text>
<text class="serif" x="1075.7" y="602.7" font-size="27.1" fill="#0d3480" text-anchor="middle" style="filter:drop-shadow(0.9px 1px 0.5px rgba(70,90,130,0.55))">outstanding</text>
<text class="serif" x="1075.7" y="639.1" font-size="27.1" fill="#0d3480" text-anchor="middle" style="filter:drop-shadow(0.9px 1px 0.5px rgba(70,90,130,0.55))">insurance</text>
<text class="serif" x="1075.7" y="675.6" font-size="27.1" fill="#0d3480" text-anchor="middle" style="filter:drop-shadow(0.9px 1px 0.5px rgba(70,90,130,0.55))">commitments</text>
<text class="serif" x="1075.7" y="712.0" font-size="27.1" fill="#0d3480" text-anchor="middle" style="filter:drop-shadow(0.9px 1px 0.5px rgba(70,90,130,0.55))">against political</text>
<text class="serif" x="1075.7" y="748.5" font-size="27.1" fill="#0d3480" text-anchor="middle" style="filter:drop-shadow(0.9px 1px 0.5px rgba(70,90,130,0.55))">risks in the</text>
<text class="serif" x="1075.7" y="784.9" font-size="27.1" fill="#0d3480" text-anchor="middle" style="filter:drop-shadow(0.9px 1px 0.5px rgba(70,90,130,0.55))">region</text>
<path d="M455.68 483.17 A243.5 243.5 0 0 1 777.90 491.28 L670.38 607.05 A85.5 85.5 0 0 0 557.24 604.20Z" fill="url(#gUAE)" stroke="#fff" stroke-width="1.15" stroke-linejoin="round"/>
<path d="M777.90 491.28 A243.5 243.5 0 0 1 823.84 790.12 L686.51 711.98 A85.5 85.5 0 0 0 670.38 607.05Z" fill="url(#gSA)" stroke="#fff" stroke-width="1.15" stroke-linejoin="round"/>
<path d="M823.84 790.12 A243.5 243.5 0 0 1 611.43 913.20 L611.93 755.20 A85.5 85.5 0 0 0 686.51 711.98Z" fill="url(#gEG)" stroke="#fff" stroke-width="1.15" stroke-linejoin="round"/>
<path d="M611.43 913.20 A243.5 243.5 0 0 1 468.33 866.15 L561.68 738.68 A85.5 85.5 0 0 0 611.93 755.20Z" fill="url(#gQA)" stroke="#fff" stroke-width="1.15" stroke-linejoin="round"/>
<path d="M468.33 866.15 A243.5 243.5 0 0 1 409.39 804.46 L540.99 717.02 A85.5 85.5 0 0 0 561.68 738.68Z" fill="url(#gMO)" stroke="#fff" stroke-width="1.15" stroke-linejoin="round"/>
<path d="M409.39 804.46 A243.5 243.5 0 0 1 381.73 748.29 L531.28 697.29 A85.5 85.5 0 0 0 540.99 717.02Z" fill="url(#gOM)" stroke="#fff" stroke-width="1.15" stroke-linejoin="round"/>
<path d="M381.73 748.29 A243.5 243.5 0 0 1 369.31 686.91 L526.91 675.74 A85.5 85.5 0 0 0 531.28 697.29Z" fill="url(#gKU)" stroke="#fff" stroke-width="1.15" stroke-linejoin="round"/>
<path d="M369.31 686.91 A243.5 243.5 0 0 1 370.77 638.01 L527.43 658.57 A85.5 85.5 0 0 0 526.91 675.74Z" fill="#e8ccf8" stroke="#fff" stroke-width="1.15" stroke-linejoin="round"/>
<path d="M370.77 638.01 A243.5 243.5 0 0 1 381.48 591.84 L531.19 642.36 A85.5 85.5 0 0 0 527.43 658.57Z" fill="#9ec8d9" stroke="#fff" stroke-width="1.15" stroke-linejoin="round"/>
<path d="M381.48 591.84 A243.5 243.5 0 0 1 399.43 551.28 L537.49 628.12 A85.5 85.5 0 0 0 531.19 642.36Z" fill="#e6cccb" stroke="#fff" stroke-width="1.15" stroke-linejoin="round"/>
<path d="M399.43 551.28 A243.5 243.5 0 0 1 455.68 483.17 L557.24 604.20 A85.5 85.5 0 0 0 537.49 628.12Z" fill="#ffc000" stroke="#fff" stroke-width="1.15" stroke-linejoin="round"/>
<g transform="translate(520,580) scale(0.18574)">
<g transform="translate(12,12)" opacity="0.45" filter="url(#mshadow)" fill="#445"><path d="M240 318 L300 300 L390 297 L395 320 L400 340 L440 355 L480 375 L490 350 L520 350 L560 362 L600 362 L620 378 L640 430 L660 500 L665 515 L640 540 L640 580 L620 590 L600 600 L560 600 L535 610 L520 590 L510 565 L520 540 L530 520 L525 490 L500 470 L470 455 L440 450 L400 455 L370 475 L340 495 L320 490 L290 465 L260 440 L235 432 L225 470 L232 530 L200 535 L170 542 L135 525 L125 470 L150 430 L165 400 L195 385 L215 340Z"/><path d="M640 300 L715 295 L730 330 L750 370 L775 410 L800 435 L835 425 L850 445 L875 460 L870 480 L840 510 L800 535 L760 555 L730 565 L715 530 L690 480 L670 440 L650 400 L630 370 L635 330Z"/><path d="M710 575 L730 595 L770 590 L800 580 L795 610 L770 650 L740 690 L710 722 L700 710 L705 680 L735 655 L750 625 L730 610 L712 590Z"/></g>
<g fill="#003087" stroke="#003087" stroke-width="4" stroke-linejoin="round"><path d="M240 318 L300 300 L390 297 L395 320 L400 340 L440 355 L480 375 L490 350 L520 350 L560 362 L600 362 L620 378 L640 430 L660 500 L665 515 L640 540 L640 580 L620 590 L600 600 L560 600 L535 610 L520 590 L510 565 L520 540 L530 520 L525 490 L500 470 L470 455 L440 450 L400 455 L370 475 L340 495 L320 490 L290 465 L260 440 L235 432 L225 470 L232 530 L200 535 L170 542 L135 525 L125 470 L150 430 L165 400 L195 385 L215 340Z"/><path d="M640 300 L715 295 L730 330 L750 370 L775 410 L800 435 L835 425 L850 445 L875 460 L870 480 L840 510 L800 535 L760 555 L730 565 L715 530 L690 480 L670 440 L650 400 L630 370 L635 330Z"/><path d="M710 575 L730 595 L770 590 L800 580 L795 610 L770 650 L740 690 L710 722 L700 710 L705 680 L735 655 L750 625 L730 610 L712 590Z"/></g>
</g>
<text class="serif" x="354.5" y="385.8" font-size="25" fill="#000" textLength="566.5" lengthAdjust="spacing">Distribution  of Outstanding Commitments in Arab</text>
<text class="serif" x="482.6" y="415.6" font-size="25" fill="#000" textLength="316.5" lengthAdjust="spacing">Countries by the end of 2024</text>
<text class="serif" x="616" y="501.8" font-size="18" letter-spacing="0.3" fill="#fff" text-anchor="middle">UAE</text>
<text class="serif" x="616" y="523.4" font-size="18" letter-spacing="0.3" fill="#fff" text-anchor="middle">23.0%</text>
<text class="serif" x="775.5" y="640" font-size="18" letter-spacing="0.3" fill="#fff" text-anchor="middle">Saudi Arabia</text>
<text class="serif" x="775.5" y="661" font-size="18" letter-spacing="0.3" fill="#fff" text-anchor="middle">21.3%</text>
<text class="serif" x="700" y="829.5" font-size="18" letter-spacing="0.3" fill="#fff" text-anchor="middle">Egypt</text>
<text class="serif" x="700" y="850.5" font-size="18" letter-spacing="0.3" fill="#fff" text-anchor="middle">16.8%</text>
<text class="serif" x="560" y="866" font-size="18" letter-spacing="0.3" fill="#fff" text-anchor="middle">Qatar</text>
<text class="serif" x="560" y="886.5" font-size="18" letter-spacing="0.3" fill="#fff" text-anchor="middle">10.0%</text>
<text class="serif" x="475.4" y="796.7" font-size="18" letter-spacing="0.3" fill="#fde9dc" text-anchor="middle">Morocc</text>
<text class="serif" x="475.4" y="817.6" font-size="18" letter-spacing="0.3" fill="#fde9dc" text-anchor="middle">o</text>
<text class="serif" x="475.4" y="839.3" font-size="18" letter-spacing="0.3" fill="#fde9dc" text-anchor="middle">5.6%</text>
<text class="serif" x="380" y="785.4" font-size="18" letter-spacing="0.3" fill="#000" text-anchor="middle">Oman</text>
<text class="serif" x="380" y="807" font-size="18" letter-spacing="0.3" fill="#000" text-anchor="middle">4.1%</text>
<text class="serif" x="365.3" y="727.8" font-size="18" letter-spacing="0.3" fill="#000" text-anchor="middle">Kuwait</text>
<text class="serif" x="365.3" y="749.2" font-size="18" letter-spacing="0.3" fill="#000" text-anchor="middle">4.1%</text>
<text class="serif" x="351.5" y="670.5" font-size="18" letter-spacing="0.3" fill="#000" text-anchor="middle">Algeria</text>
<text class="serif" x="351.5" y="690.8" font-size="18" letter-spacing="0.3" fill="#000" text-anchor="middle">3.2%</text>
<text class="serif" x="353.5" y="616.5" font-size="18" letter-spacing="0.3" fill="#000" text-anchor="middle">Bahrain</text>
<text class="serif" x="353.5" y="637" font-size="18" letter-spacing="0.3" fill="#000" text-anchor="middle">3.1%</text>
<text class="serif" x="350.2" y="557.9" font-size="18" letter-spacing="0.3" fill="#000" text-anchor="middle">Iraq</text>
<text class="serif" x="350.2" y="578.3" font-size="18" letter-spacing="0.3" fill="#000" text-anchor="middle">2.9%</text>
<text class="serif" x="471.3" y="534" font-size="18" letter-spacing="0.3" fill="#000" text-anchor="middle">Other</text>
<text class="serif" x="471.3" y="555" font-size="18" letter-spacing="0.3" fill="#000" text-anchor="middle">countries</text>
<text class="serif" x="471.3" y="577" font-size="18" letter-spacing="0.3" fill="#000" text-anchor="middle">5.8%</text>
<g>
<ellipse cx="1129.7" cy="98.5" rx="16.3" ry="25.8" fill="url(#calli)"/>
<path d="M1110.1 90.8 C1107.8 98 1108.2 108 1110.6 116 C1113.5 126 1120 135.5 1131.3 137.7 C1141 138.5 1147.5 128 1150.4 114 C1151.6 108 1151.8 103 1151.4 98 L1149.9 98.5 C1149.6 104 1148 111 1145.7 116 C1142 124.5 1137 129.3 1130.2 129 C1122 128.3 1117.5 121 1115.8 116 C1112.5 107 1111.5 98 1111.7 91.3Z" fill="#c8102e"/>
<path d="M1150.4 92.3 C1154 86.5 1159 78 1164.3 74.8 C1169 71 1174.5 70.5 1175.7 74.8 C1176.5 80 1174 87.5 1171.5 91.3 C1167 96.5 1159 99.5 1152 98.6 C1149.8 98 1149.6 95 1150.4 92.3Z M1160.2 89.7 C1163 84 1167.5 79.5 1172.6 77.9 C1172.6 82 1168.5 88 1160.2 89.7Z" fill="#c8102e" fill-rule="evenodd"/>
<polygon points="1151.4,63.9 1159.7,68.1 1156,75.8 1147.3,71.7" fill="#c8102e"/>
</g>
<text class="sans" x="1013" y="883" font-size="37" fill="#5b9bd5" stroke="#5b9bd5" stroke-width="0.6" textLength="71" lengthAdjust="spacingAndGlyphs">berne</text>
<text class="sans" x="1086.5" y="883" font-size="37" fill="#1c1c1c" stroke="#1c1c1c" stroke-width="0.6" textLength="66" lengthAdjust="spacingAndGlyphs">union</text>
<rect x="1155.35" y="863" width="1.64" height="20.6" fill="#e8f8f8"/>
<rect x="1156.95" y="863" width="3.04" height="20.6" fill="#a8c0b0"/>
<rect x="1159.94" y="863" width="1.05" height="20.6" fill="#f8e0d8"/>
<rect x="1160.93" y="863" width="1.25" height="20.6" fill="#a898a0"/>
<rect x="1162.13" y="863" width="1.25" height="20.6" fill="#c0d0e0"/>
<rect x="1163.33" y="863" width="1.64" height="20.6" fill="#98b8d0"/>
<rect x="1164.92" y="863" width="2.04" height="20.6" fill="#e0f0f8"/>
<rect x="1166.91" y="863" width="3.04" height="20.6" fill="#d0b090"/>
<rect x="1169.90" y="863" width="2.04" height="20.6" fill="#f8e0e0"/>
<rect x="1171.90" y="863" width="1.25" height="20.6" fill="#a888a0"/>
<rect x="1173.09" y="863" width="2.64" height="20.6" fill="#c89aa2"/>
<rect x="1175.69" y="863" width="2.04" height="20.6" fill="#e0e0c8"/>
<rect x="1177.68" y="863" width="2.24" height="20.6" fill="#a8b0a8"/>
<rect x="1179.87" y="863" width="1.84" height="20.6" fill="#d0c8d0"/>
<rect x="1181.67" y="863" width="2.24" height="20.6" fill="#d0e0d0"/>
<text class="sans" x="1013.5" y="894.3" font-size="7.2" fill="#55819f" stroke="#55819f" stroke-width="0.15" textLength="170" lengthAdjust="spacingAndGlyphs">SUPPORTING TRADE AND INVESTMENT SINCE 1934</text>
</svg>
</body></html>
